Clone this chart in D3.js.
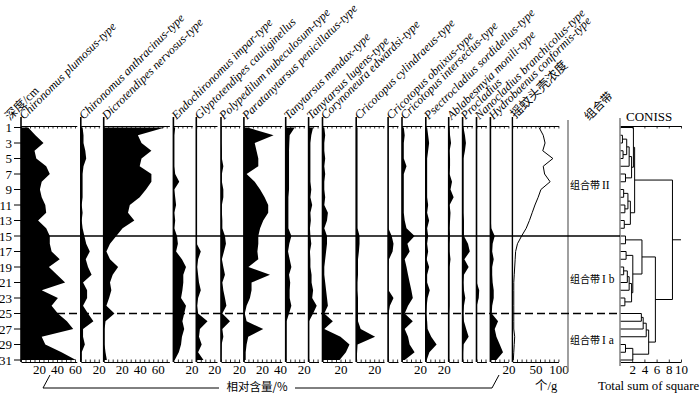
<!DOCTYPE html>
<html>
<head>
<meta charset="utf-8">
<script src="https://cdn.jsdelivr.net/npm/d3@7"></script>
<style>
  body { margin: 0; background: #fff; }
  svg text { font-family: "Liberation Serif", "Noto Sans CJK SC", serif; fill: #000; }
  .cjk { font-family: "Noto Sans CJK SC", sans-serif !important; }
  .taxon { font-style: italic; font-size: 12px; }
</style>
</head>
<body>
<div id="chart"></div>
<script>
/* DATA */
const depths = [1,2,3,4,5,6,7,8,9,10,11,12,13,14,15,16,17,18,19,20,21,22,23,24,25,26,27,28,29,30,31];
const depthLabels = [1,3,5,7,9,11,13,15,17,19,21,23,25,27,29,31];

const taxa = [
  "Chironomus plumosus-type",
  "Chironomus anthracinus-type",
  "Dicrotendipes nervosus-type",
  "Endochironomus impar-type",
  "Glyptotendipes cauliginellus",
  "Polypedilum nubeculosum-type",
  "Paratanytarsus penicillatus-type",
  "Tanytarsus mendax-type",
  "Tanytarsus lugens-type",
  "Corynoneura edwardsi-type",
  "Cricotopus cylindraeus-type",
  "Cricotopus obnixus-type",
  "Cricotopus intersectus-type",
  "Psectrocladius sordidellus-type",
  "Ablabesmyia monili-type",
  "Procladius",
  "Nanocladius branchicolus-type",
  "Hydrobaenus conformis-type"
];

// relative abundance (%) per depth 1..31 cm
const plumosus      = [8,16,25,15,17,28,32,23,21,23,27,28,19,28,32,32,34,43,31,40,49,23,41,34,41,51,58,23,27,45,61];
const anthracinus   = [2,3,3,5,6,3,2,2,2,2,1,2,1,2,4,6,10,5.5,8,12,2.5,7,7,2.5,8,14,2.5,2.5,4.5,1,1];
const dicrotendipes = [68,38,42,53,42,40,53,53,47,40,29,27,34,21,14,7,3,7,16,10,7,8.5,6,3,12,2,1,1,1,2,3.5];
const endochironomus= [2,1,1,1,1,1,2,6.5,1,2,3,1,2,1,4,5,3,9.5,14,11,11,10,8.5,14,12,10,12,9.5,8.5,6,1.5];
const glyptotendipes= [0.4,0.4,0.4,0.4,0.4,0.4,0.4,0.4,0.4,0.4,0.4,0.4,0.4,0.4,0.5,0.5,5,2,1,2,3,5,2,1,2,12.5,4,3,6,2,8];
const polypedilum   = [0.5,0.5,0.5,1,1,2.6,1,1,2.6,2.6,1,1,1.5,1.5,4.4,5.5,3.3,1,2.6,4.4,1.5,2.6,4.4,6,1.5,10,1.5,2.6,0.7,0.5,0.3];
const paratanytarsus= [4,33,12,14,16,16,3,12,18,23,27,27,21.5,18,16,16,15,16,5,29,8.5,8.5,6.7,3,1,3,21.5,4.8,3,2,2];
const mendax        = [10,4.4,4,3.7,3.7,3.7,3.7,3.7,3.7,3,3,3,3,3,6.3,4,2.6,4.4,6.3,3.7,5,4.4,4.4,6.3,3.7,1,1,1,1,1,1];
const lugens        = [5,3,2,2,2,2,2,2,3,2,4,2,2.5,1.5,2,3,1.5,2,2,3.3,3.3,5,4,9,5,0.5,0.5,0.5,0.5,0.5,0.5];
const corynoneura   = [2,3,2,2,3,2,3,2,2,3,2,6,5,2,5,5,4,3,2,2,3,4,5,6,2,11.5,2,20,30,26,19];
const cylindraeus   = [1.5,1.5,1.5,1.5,1.5,1.5,1.5,1.5,1.5,1.5,1.5,1.5,1.5,1.5,3.7,3.7,3,2,2,2,1.5,1.5,2,2,2,2,5,21,1.5,1,0.5];
const obnixus       = [0.3,0.3,0.3,0.3,0.3,0.3,0.3,0.3,0.3,0.3,0.3,0.3,0.3,0.3,4,6,5,1,0.5,0.5,0.5,0.5,6,2,0.5,0.5,0.5,0.5,0.5,0.5,0.5];
const intersectus   = [2,3,2,2,2,5,2,2,2,2,2,2,3,5,14,6,8.5,3,5,6.7,8.5,10.4,12,6.7,3,12,3,6.7,8.5,14,3];
const psectrocladius= [1.5,2.6,3.7,2.6,1.5,1.5,1.5,1.5,1.5,1.5,2.6,1.5,3.7,1.5,2.6,1.5,2.6,1,3.7,1.5,1.5,4.4,2,1,0.5,1.5,2,6,12,4,1];
const ablabesmyia   = [1,1.5,2.6,1,1.5,1.5,1,3.7,2,5.5,1,2,1.5,1,1.5,1,1,2,1,1,1,1,1,1,0.5,0.5,0.5,0.5,0.5,0.5,0.5];
const procladius    = [1,2.6,3.7,2.6,1,1,1,1,1,1,1,1,1.5,1.5,1.5,6,8,2,6.7,1.5,1,1.5,3,1.5,1,1.5,4,6.7,1,0.5,0.3];
const nanocladius   = [0.3,0.3,0.3,0.3,0.3,0.3,0.3,0.3,0.3,0.3,0.3,0.3,0.3,0.3,0.3,0.3,0.3,0.3,0.3,0.3,0.3,3,2.5,0.3,0.3,0.3,0.3,0.3,0.3,0.3,0.3];
const hydrobaenus   = [0.5,0.5,0.5,0.5,0.5,0.5,0.5,0.5,0.5,0.5,0.5,0.5,0.5,1,4.8,2.5,2,3.7,2,2,2.5,3.7,3.7,2,1.5,8.5,4.8,6.7,10.4,14,6.7];

const taxaValues = [plumosus, anthracinus, dicrotendipes, endochironomus, glyptotendipes, polypedilum,
  paratanytarsus, mendax, lugens, corynoneura, cylindraeus, obnixus, intersectus, psectrocladius,
  ablabesmyia, procladius, nanocladius, hydrobaenus];

// x axis extent (%) of each taxon column
const axisMax = [62,21,73,21,23,21,42,21,11,33,31,11,22,21,11,11,11,20];

// head capsule concentration (个/g)
const concentration = [58,67,71,66,88,67,70,82,62,56,49,43,37,30,20,11,7,6,5,4,3,3,3,3,3,3,3,5,4,3,2];
const concTicks = [50, 100];

// CONISS merges: [node a, node b, total sum of squares]; nodes 0..30 are samples, 31.. merges
const conissMerges = [
  [1,2,0.4],[3,4,0.5],[31,32,1.1],[33,5,1.5],[6,7,0.9],[34,35,1.9],[0,36,2.2],
  [8,9,0.6],[10,11,0.8],[38,39,1.3],[12,13,0.7],[40,41,1.7],[37,42,2.4],
  [14,15,0.9],[16,17,1.0],[18,19,0.6],[46,20,1.2],[22,23,0.8],[47,21,1.5],[49,48,1.9],[45,50,2.1],[44,51,3.6],
  [24,25,3.5],[53,26,3.8],[54,27,4.3],[28,29,0.9],[56,30,2.1],[55,57,4.7],
  [52,58,5.8],[43,59,8.6]
];
const conissTicks = [2,4,6,8,10];

const zoneBoundaries = [15, 25];
const zoneNames = [
  { name: "组合带", num: "II", depth: 8.4 },
  { name: "组合带", num: "I b", depth: 20.5 },
  { name: "组合带", num: "I a", depth: 28.4 }
];

/* LAYOUT */
const width = 700, height = 395;
const topY = 126, botY = 362;
const pctPx = 0.9;

const svg = d3.select("#chart").append("svg")
  .attr("width", width).attr("height", height);

const y = d3.scaleLinear().domain([1, 31]).range([127.5, 360]);

const rows = depths.map((d, i) => ({ depth: d, i }));

function styleAxis(g, fs) {
  g.attr("font-family", null).attr("font-size", fs);
  g.select(".domain").attr("stroke", "#000").attr("stroke-width", 1);
  g.selectAll(".tick line").attr("stroke", "#000").attr("stroke-width", 0.8);
  // drop unlabeled tick texts
  g.selectAll(".tick text").filter(function() { return this.textContent === ""; }).remove();
}

// columns
let xPos = 21;
const cols = taxa.map((name, i) => {
  const base = xPos;
  const sc = d3.scaleLinear().domain([0, axisMax[i]]).range([base, base + axisMax[i] * pctPx]);
  xPos += axisMax[i] * pctPx + 4;
  return { name, values: taxaValues[i], sc, max: axisMax[i] };
});

cols.forEach(c => {
  const g = svg.append("g");
  const area = d3.area()
    .x0(c.sc(0))
    .x1(d => c.sc(c.values[d.i]))
    .y(d => y(d.depth));
  g.append("path").datum(rows).attr("d", area).attr("fill", "#000");

  const tv = d3.range(0, c.max + 0.01, 5);
  g.append("g").attr("transform", `translate(0,${topY})`)
    .call(d3.axisTop(c.sc).tickValues(tv).tickSize(-2.5).tickSizeOuter(0).tickFormat(""))
    .call(a => styleAxis(a, 13));
  g.append("g").attr("transform", `translate(0,${botY})`)
    .call(d3.axisBottom(c.sc).tickValues(tv).tickSize(-2.5).tickSizeOuter(0).tickPadding(3)
      .tickFormat(d => (d > 0 && d % 20 === 0) ? d : ""))
    .call(a => styleAxis(a, 13));

  g.append("line")
    .attr("x1", c.sc(0)).attr("x2", c.sc(0))
    .attr("y1", 117).attr("y2", botY)
    .attr("stroke", "#000").attr("stroke-width", 1.6);

  g.append("text").attr("class", "taxon")
    .attr("transform", `translate(${c.sc(0) + 3},120) rotate(-45)`)
    .text(c.name);
});

// concentration column
const concBase = xPos;
const concX = d3.scaleLinear().domain([0, 100]).range([concBase, concBase + 46]);
svg.append("path").datum(rows)
  .attr("d", d3.line().x(d => concX(concentration[d.i])).y(d => y(d.depth)))
  .attr("fill", "none").attr("stroke", "#000").attr("stroke-width", 1);
svg.append("g").attr("transform", `translate(0,${topY})`)
  .call(d3.axisTop(concX).tickValues(d3.range(0, 101, 10)).tickSize(-2.5).tickSizeOuter(0).tickFormat(""))
  .call(a => styleAxis(a, 13));
svg.append("g").attr("transform", `translate(0,${botY})`)
  .call(d3.axisBottom(concX).tickValues(d3.range(0, 101, 10)).tickSize(-2.5).tickSizeOuter(0).tickPadding(3)
    .tickFormat(d => concTicks.includes(d) ? d : ""))
  .call(a => styleAxis(a, 13));
svg.append("line")
  .attr("x1", concX(0)).attr("x2", concX(0)).attr("y1", 117).attr("y2", botY)
  .attr("stroke", "#000").attr("stroke-width", 1.4);
svg.append("text").attr("class", "cjk").attr("font-size", 12.5)
  .attr("transform", `translate(${concX(0) + 3},119) rotate(-45)`)
  .text("摇蚊头壳浓度");

// depth axis
const depthG = svg.append("g");
depthG.selectAll("line").data(depthLabels).join("line")
  .attr("x1", 14).attr("x2", 21)
  .attr("y1", d => y(d)).attr("y2", d => y(d))
  .attr("stroke", "#000").attr("stroke-width", 1);
depthG.selectAll("text").data(depthLabels).join("text")
  .attr("x", 12).attr("y", d => y(d) + 4.5)
  .attr("text-anchor", "end").attr("font-size", 13)
  .text(d => d);
svg.append("text").attr("font-size", 12)
  .attr("transform", "translate(10,121) rotate(-45)")
  .text("深度/cm");

// CONISS
const cx = d3.scaleLinear().domain([0, 10]).range([620, 681]);
const nodeY = depths.map(d => y(d));
const nodeH = depths.map(() => 0);
conissMerges.forEach(([a, b, h]) => {
  nodeY.push((nodeY[a] + nodeY[b]) / 2);
  nodeH.push(h);
});
svg.append("g").selectAll("path").data(conissMerges).join("path")
  .attr("d", ([a, b, h]) =>
    `M${cx(nodeH[a])},${nodeY[a]}H${cx(h)}V${nodeY[b]}H${cx(nodeH[b])}`)
  .attr("fill", "none").attr("stroke", "#000").attr("stroke-width", 1);
const root = nodeY.length - 1;
svg.append("line")
  .attr("x1", cx(nodeH[root])).attr("x2", cx(10))
  .attr("y1", nodeY[root]).attr("y2", nodeY[root])
  .attr("stroke", "#000").attr("stroke-width", 1);

svg.append("g").attr("transform", `translate(0,${topY})`)
  .call(d3.axisTop(cx).tickValues([0].concat(conissTicks)).tickSize(-2.5).tickSizeOuter(0).tickFormat(""))
  .call(a => styleAxis(a, 13));
svg.append("g").attr("transform", `translate(0,${botY})`)
  .call(d3.axisBottom(cx).tickValues([0].concat(conissTicks)).tickSize(-2.5).tickSizeOuter(0).tickPadding(3)
    .tickFormat(d => conissTicks.includes(d) ? d : ""))
  .call(a => styleAxis(a, 13));
svg.append("line")
  .attr("x1", cx(0)).attr("x2", cx(0)).attr("y1", 118).attr("y2", 366)
  .attr("stroke", "#888").attr("stroke-width", 1.6);
svg.append("text").attr("x", 626).attr("y", 121).attr("font-size", 13).text("CONISS");
svg.append("text").attr("x", 598).attr("y", 390).attr("font-size", 12.8).text("Total sum of square");

// zone column
svg.append("line")
  .attr("x1", 568).attr("x2", 568).attr("y1", 120).attr("y2", 372)
  .attr("stroke", "#888").attr("stroke-width", 1.6);
svg.append("text").attr("class", "cjk").attr("font-size", 11.5)
  .attr("transform", "translate(589,121) rotate(-45)")
  .text("组合带");

zoneBoundaries.forEach((d, i) => {
  svg.append("line")
    .attr("x1", 21).attr("x2", cx(0))
    .attr("y1", y(d)).attr("y2", y(d))
    .attr("stroke", "#000").attr("stroke-width", 1.5)
    .attr("stroke-dasharray", i === 0 ? null : "8,4");
});

zoneNames.forEach(z => {
  const t = svg.append("text").attr("x", 570).attr("y", y(z.depth) + 4);
  t.append("tspan").attr("class", "cjk").attr("font-size", 10).text(z.name);
  t.append("tspan").attr("font-size", 11.5).attr("dx", 2).text(z.num);
});

// bottom labels
svg.append("path")
  .attr("d", "M50,375L43,388H219M295,388H492L499,375")
  .attr("fill", "none").attr("stroke", "#000").attr("stroke-width", 1);
svg.append("text").attr("class", "cjk").attr("font-size", 11.5)
  .attr("x", 257).attr("y", 391.4).attr("text-anchor", "middle")
  .text("相对含量/%");
svg.append("text").attr("font-size", 12.5)
  .attr("x", 535).attr("y", 390)
  .text("个/g");
</script>
</body>
</html>
